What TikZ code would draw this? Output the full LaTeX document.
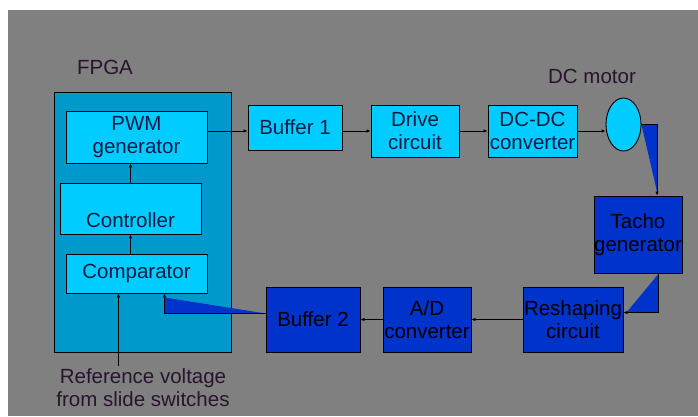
\documentclass[tikz,border=0pt]{standalone}
\usepackage{fontspec}
\setmainfont{Liberation Sans}
\usepackage{tikz}
\usetikzlibrary{positioning}
\usetikzlibrary{calc}
\usetikzlibrary{arrows.meta}
\usetikzlibrary{shapes.geometric}
\definecolor{slidegray}{RGB}{128,128,128}
\definecolor{fpgablue}{RGB}{0,153,204}
\definecolor{lightcyan}{RGB}{0,204,255}
\definecolor{darkblue}{RGB}{0,51,204}
\definecolor{boxtext}{RGB}{0,28,70}
\definecolor{slidetext}{RGB}{40,20,45}

\begin{document}
\begin{tikzpicture}[
    x=1pt, y=-1pt,
    every node/.style={font=\fontsize{20.5}{23}\selectfont},
    block/.style={draw=black, line width=0.9pt, inner sep=0pt, align=center},
    cyan block/.style={block, fill=lightcyan, text=boxtext},
    blue block/.style={block, fill=darkblue, text=black},
    caption/.style={text=slidetext, inner sep=0pt, align=center},
    signal/.style={-{Latex[length=4pt,width=3.5pt]}, line width=0.9pt}
  ]

  \useasboundingbox (0,0) rectangle (698,416);
  \fill[white] (0,0) rectangle (698,416);
  \fill[slidegray] (8,10) rectangle (698,416);

  % FPGA side
  \node[block, fill=fpgablue, minimum width=177pt, minimum height=260pt] (fpga) at (142.5,222) {};
  \node[caption] (fpga_label) at (105,67) {FPGA};

  \node[cyan block, minimum width=141pt, minimum height=52pt] (pwm) at (136.5,137) {PWM\\generator};
  \node[cyan block, minimum width=141pt, minimum height=51pt] (ctrl) at (130.5,208.5) {};
  \node[text=boxtext, inner sep=0pt] (ctrl_text) at (130.5,220) {Controller};
  \node[cyan block, minimum width=141pt, minimum height=39pt] (cmp) at (136.5,273.5) {Comparator};

  \node[caption] (ref) at (143,388) {Reference voltage\\from slide switches};

  % forward path
  \node[cyan block, minimum width=94pt, minimum height=45pt] (buf1) at (295,127.5) {Buffer 1};
  \node[cyan block, minimum width=88pt, minimum height=52pt] (drive) at (415,131) {Drive\\circuit};
  \node[cyan block, minimum width=89pt, minimum height=52pt] (dcdc) at (532.5,131) {DC-DC\\converter};
  \node[ellipse, draw=black, line width=0.9pt, fill=lightcyan, minimum width=35pt, minimum height=53pt, inner sep=0pt] (motor) at (623.5,124.5) {};
  \node[caption] (motor_label) at (592,76) {DC motor};

  % feedback path
  \node[blue block, minimum width=88pt, minimum height=77pt] (tacho) at (638,234.5) {Tacho\\generator};
  \node[blue block, minimum width=100pt, minimum height=65pt] (reshape) at (573,319.5) {Reshaping\\circuit};
  \node[blue block, minimum width=88pt, minimum height=65pt] (ad) at (427,319.5) {A/D\\converter};
  \node[blue block, minimum width=94pt, minimum height=65pt] (buf2) at (313,319.5) {Buffer 2};

  \coordinate (pwm_out) at ([yshift=6pt]pwm.east);
  \coordinate (tacho_in) at ([xshift=19pt]tacho.north);
  \coordinate (tacho_out) at ([xshift=20pt]tacho.south);
  \coordinate (reshape_in) at ([yshift=7pt]reshape.east);
  \coordinate (buf2_out) at ([yshift=6pt]buf2.west);
  \coordinate (cmp_in) at ([xshift=28pt]cmp.south);
  \coordinate (ref_in) at ([xshift=-18pt]cmp.south);

  \fill[darkblue] (motor.east) -- (motor.east -| tacho_in) -- ([yshift=4pt]tacho_in) -- cycle;
  \fill[darkblue] ([yshift=-1pt]tacho_out) -- (tacho_out |- reshape_in) -- ([xshift=3pt]reshape_in) -- cycle;
  \fill[darkblue] ([yshift=-4pt]cmp_in) -- (cmp_in |- buf2_out) -- (buf2_out) -- cycle;

  \draw[signal] (pwm_out) -- (pwm_out -| buf1.west);
  \draw[signal] (buf1.east |- drive.west) -- (drive.west);
  \draw[signal] (drive.east) -- (dcdc.west);
  \draw[signal] (dcdc.east) -- (dcdc.east -| motor.west);
  \draw[signal] (motor.east) -| (tacho_in);
  \draw[signal] (tacho_out) |- (reshape_in);
  \draw[signal] (reshape.west) -- (ad.east);
  \draw[signal] (ad.west) -- (buf2.east);
  \draw[signal] (buf2_out) -| (cmp_in);
  \draw[signal] (ctrl.south |- cmp.north) -- (ctrl.south);
  \draw[signal] (ctrl.north) -- (ctrl.north |- pwm.south);
  \draw[signal] ([yshift=3pt]ref.north -| ref_in) -- (ref_in);

\end{tikzpicture}
\end{document}
